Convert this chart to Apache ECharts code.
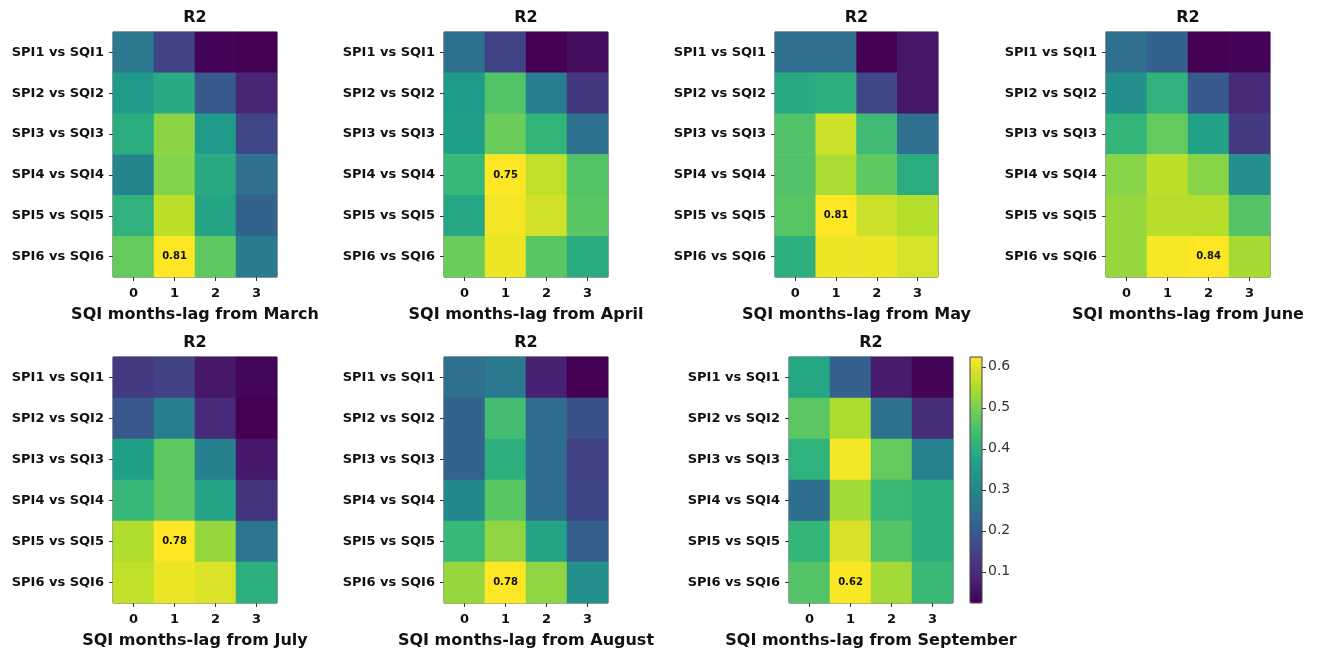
<!DOCTYPE html>
<html>
<head>
<meta charset="utf-8">
<script src="https://cdn.jsdelivr.net/npm/echarts@6/dist/echarts.min.js"></script>
<style>html,body{margin:0;padding:0;background:#fff}#c{width:1319px;height:651px}</style>
</head>
<body>
<div id="c"></div>
<script>
const rowLabels = ['SPI1 vs SQI1','SPI2 vs SQI2','SPI3 vs SQI3','SPI4 vs SQI4','SPI5 vs SQI5','SPI6 vs SQI6'];
const lagLabels = ['0','1','2','3'];
const months = ['March','April','May','June','July','August','September'];
const colorbarTicks = [0.1,0.2,0.3,0.4,0.5,0.6];
const colorbarMin = 0.024;
const colorbarMax = 0.624;

// R2 values, rows SPI1..SPI6, columns lag 0..3
const rMarch = [
  [0.34,0.18,0.03,0.02],
  [0.45,0.50,0.24,0.10],
  [0.51,0.67,0.45,0.19],
  [0.38,0.66,0.50,0.31],
  [0.53,0.73,0.48,0.27],
  [0.62,0.81,0.61,0.35]];
const rApril = [
  [0.29,0.17,0.02,0.04],
  [0.42,0.55,0.33,0.14],
  [0.43,0.58,0.50,0.29],
  [0.51,0.75,0.68,0.55],
  [0.45,0.74,0.70,0.56],
  [0.58,0.73,0.56,0.47]];
const rMay = [
  [0.31,0.31,0.02,0.07],
  [0.50,0.52,0.19,0.07],
  [0.59,0.75,0.56,0.31],
  [0.59,0.71,0.61,0.51],
  [0.60,0.81,0.75,0.72],
  [0.52,0.79,0.79,0.76]];
const rJune = [
  [0.32,0.28,0.02,0.03],
  [0.43,0.55,0.25,0.12],
  [0.56,0.64,0.49,0.16],
  [0.69,0.76,0.69,0.43],
  [0.71,0.75,0.75,0.62],
  [0.71,0.83,0.84,0.73]];
const rJuly = [
  [0.15,0.17,0.07,0.03],
  [0.23,0.34,0.11,0.02],
  [0.45,0.59,0.35,0.07],
  [0.53,0.59,0.46,0.13],
  [0.69,0.78,0.66,0.32],
  [0.71,0.76,0.74,0.50]];
const rAugust = [
  [0.30,0.33,0.09,0.02],
  [0.26,0.55,0.29,0.21],
  [0.26,0.50,0.29,0.17],
  [0.38,0.58,0.29,0.18],
  [0.53,0.65,0.46,0.25],
  [0.66,0.78,0.65,0.40]];
const rSeptember = [
  [0.38,0.21,0.07,0.03],
  [0.47,0.55,0.25,0.10],
  [0.41,0.615,0.48,0.29],
  [0.24,0.54,0.43,0.40],
  [0.42,0.59,0.46,0.40],
  [0.46,0.62,0.54,0.43]];

const panels = [rMarch,rApril,rMay,rJune,rJuly,rAugust,rSeptember];
const viridis = ['#440154','#482878','#3e4989','#31688e','#26828e','#1f9e89','#35b779','#6ece58','#b5de2b','#fde725'];
const FONT = 'DejaVu Sans';
const gridPos = [
  {left:113,top:32,width:164,height:245},
  {left:444,top:32,width:164,height:245},
  {left:775,top:32,width:163,height:245},
  {left:1106,top:32,width:164,height:245},
  {left:113,top:357,width:164,height:246},
  {left:444,top:357,width:164,height:246},
  {left:789,top:357,width:164,height:246}
];

const grid=[], xAxis=[], yAxis=[], series=[], visualMap=[], title=[];
panels.forEach((m,i)=>{
  const g = gridPos[i];
  grid.push(Object.assign({show:true,borderColor:'#444',borderWidth:1,backgroundColor:'transparent'},g));
  title.push({text:'R2',left:g.left+g.width/2,top:g.top-22,textAlign:'center',padding:0,
    textStyle:{fontFamily:FONT,fontWeight:'bold',fontSize:16,color:'#111'}});
  xAxis.push({type:'category',gridIndex:i,data:lagLabels,
    name:'SQI months-lag from '+months[i],nameLocation:'middle',nameGap:30,
    nameTextStyle:{fontFamily:FONT,fontWeight:'bold',fontSize:16,color:'#111'},
    axisLine:{show:false},axisTick:{show:true,length:4,alignWithLabel:true,lineStyle:{color:'#333'}},
    axisLabel:{fontFamily:FONT,fontWeight:'bold',fontSize:13,color:'#111',margin:10},
    splitLine:{show:false},splitArea:{show:false}});
  yAxis.push({type:'category',gridIndex:i,data:rowLabels,inverse:true,
    axisLine:{show:false},axisTick:{show:true,length:4,alignWithLabel:true,lineStyle:{color:'#333'}},
    axisLabel:{fontFamily:FONT,fontWeight:'bold',fontSize:13,color:'#111',margin:9},
    splitLine:{show:false},splitArea:{show:false}});
  const data=[];
  let mn=Infinity, mx=-Infinity;
  m.forEach((row,r)=>row.forEach((v,c)=>{data.push([c,r,v]); mn=Math.min(mn,v); mx=Math.max(mx,v);}));
  if(i===6){mn=colorbarMin; mx=colorbarMax;}
  const peak = Math.max(...m.flat());
  series.push({type:'heatmap',xAxisIndex:i,yAxisIndex:i,data:data,
    label:{show:true,fontFamily:FONT,fontWeight:'bold',fontSize:10,color:'#111',
      formatter:p=>p.value[2]===peak?p.value[2].toFixed(2):''},
    itemStyle:{borderWidth:0},emphasis:{disabled:true}});
  visualMap.push({type:'continuous',seriesIndex:i,dimension:2,min:mn,max:mx,
    inRange:{color:viridis},show:i===6,calculable:false,hoverLink:false,
    left:970,top:357,itemWidth:12,itemHeight:246,padding:0});
});
// colorbar axis
grid.push({left:970,top:357,width:12,height:246,show:true,borderColor:'#444',borderWidth:1,backgroundColor:'transparent',z:10});
xAxis.push({type:'category',gridIndex:7,data:[''],show:false});
yAxis.push({type:'value',gridIndex:7,position:'right',min:colorbarMin,max:colorbarMax,
  axisLine:{show:false},splitLine:{show:false},
  axisTick:{show:true,length:4,customValues:colorbarTicks,lineStyle:{color:'#333'}},
  axisLabel:{fontFamily:FONT,fontSize:14,color:'#333',margin:6,customValues:colorbarTicks,
    formatter:v=>v.toFixed(1)}});

const chart = echarts.init(document.getElementById('c'),null,{renderer:'canvas'});
chart.setOption({backgroundColor:'#fff',animation:false,title,grid,xAxis,yAxis,series,visualMap});
</script>
</body>
</html>
